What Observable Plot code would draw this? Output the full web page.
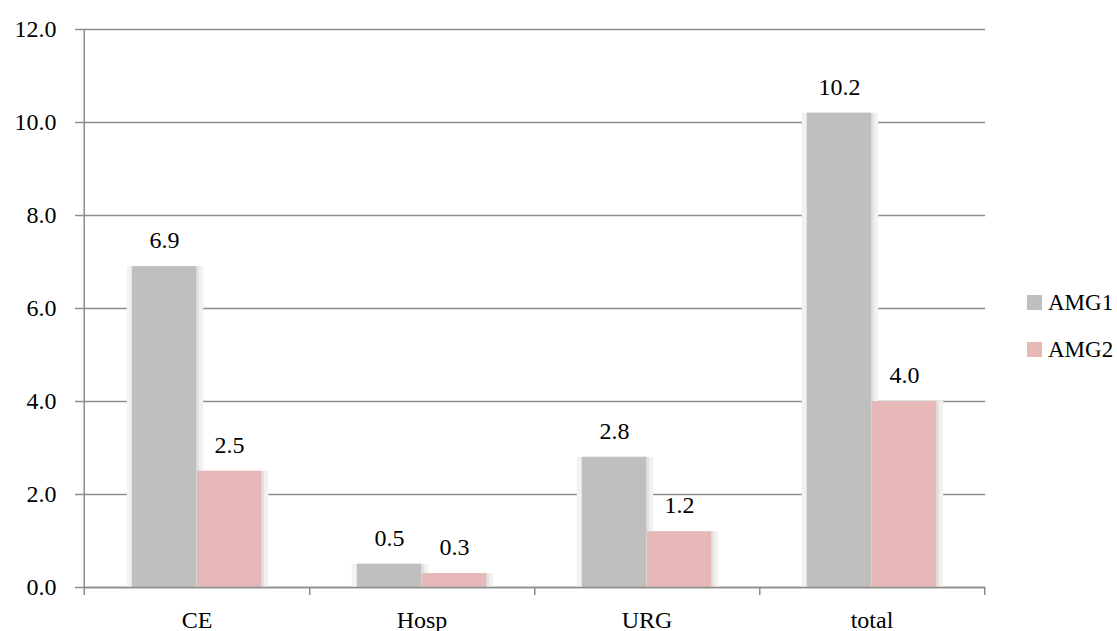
<!DOCTYPE html>
<html>
<head>
<meta charset="utf-8">
<script src="https://cdn.jsdelivr.net/npm/d3@7"></script>
<script src="https://cdn.jsdelivr.net/npm/@observablehq/plot@0.6"></script>
<style>
  html, body { margin: 0; padding: 0; background: #fff; }
  #wrap { position: relative; width: 1117px; height: 631px; font-family: "Liberation Serif", serif; }
  #legend { position: absolute; left: 1027px; top: 279px; font-size: 23px; color: #000; }
  .item { display: flex; align-items: center; height: 47px; }
  .sw { width: 15px; height: 15px; margin-right: 6px; }
</style>
</head>
<body>
<div id="wrap"><div id="chart"></div><div id="legend"></div></div>
<script>
const categories = ["CE", "Hosp", "URG", "total"];
const series = ["AMG1", "AMG2"];
const amg1 = [6.9, 0.5, 2.8, 10.2];
const amg2 = [2.5, 0.3, 1.2, 4.0];
const colors = ["#bfbfbf", "#e6b9b8"];
const yTicks = [0, 2, 4, 6, 8, 10, 12];

const W = 1117, H = 631, mL = 83, mR = 132, mT = 29, mB = 44;
const bw = (W - mL - mR) / categories.length;
const barW = 65;
const edge = bw / 2 - barW;
const FS = 24;

const rows = [];
categories.forEach((c, i) => {
  rows.push({cat: c, series: "AMG1", value: amg1[i]});
  rows.push({cat: c, series: "AMG2", value: amg2[i]});
});
const r1 = rows.filter(d => d.series === "AMG1");
const r2 = rows.filter(d => d.series === "AMG2");
const grid = "#8c8c8c";
const fmt = d3.format(".1f");

const chart = Plot.plot({
  width: W, height: H,
  marginLeft: mL, marginRight: mR, marginTop: mT, marginBottom: mB,
  style: {fontFamily: "'Liberation Serif', serif", fontSize: FS + "px", color: "#000", background: "#fff"},
  x: {domain: categories, padding: 0, axis: null},
  y: {domain: [0, 12], axis: null},
  marks: [
    Plot.ruleY(yTicks, {y: d => d, stroke: grid, strokeWidth: 1.5, insetLeft: -8}),
    Plot.axisY(yTicks, {tickSize: 0, tickPadding: 27, tickFormat: fmt, fontSize: FS, label: null}),
    // soft shadows
    Plot.barY(r1, {x: "cat", y: "value", fill: "#f2f2f2", insetLeft: edge - 5, insetRight: bw - edge - barW - 7}),
    Plot.barY(r2, {x: "cat", y: "value", fill: "#f2f2f2", insetLeft: edge + barW - 1, insetRight: edge - 7}),
    Plot.barY(r1, {x: "cat", y: "value", fill: "#e2e2e2", insetLeft: edge + 2, insetRight: bw - edge - barW - 3}),
    Plot.barY(r2, {x: "cat", y: "value", fill: "#e2e2e2", insetLeft: edge + barW + 2, insetRight: edge - 3}),
    // bars
    Plot.barY(r1, {x: "cat", y: "value", fill: colors[0], insetLeft: edge, insetRight: bw - edge - barW}),
    Plot.barY(r2, {x: "cat", y: "value", fill: colors[1], insetLeft: edge + barW, insetRight: edge}),
    // left axis line and category boundary ticks
    Plot.ruleX([categories[0]], {x: d => d, dx: -bw / 2, y1: 12, y2: 0, insetBottom: -8, stroke: grid, strokeWidth: 1.5}),
    Plot.ruleX(categories, {x: d => d, dx: bw / 2, y1: 0, y2: 0, insetBottom: -8, stroke: grid, strokeWidth: 1.5}),
    Plot.ruleY([0], {y: d => d, stroke: grid, strokeWidth: 1.5}),
    // category labels
    Plot.text(categories, {x: d => d, y: 0, text: d => d, dy: 33, fill: "#000", fontSize: FS}),
    // value labels
    Plot.text(r1, {x: "cat", y: "value", text: d => fmt(d.value), dx: -barW / 2, dy: -26, fill: "#000", fontSize: FS}),
    Plot.text(r2, {x: "cat", y: "value", text: d => fmt(d.value), dx: barW / 2, dy: -26, fill: "#000", fontSize: FS})
  ]
});
document.getElementById("chart").appendChild(chart);

const legend = document.getElementById("legend");
series.forEach((s, i) => {
  const it = document.createElement("div");
  it.className = "item";
  const sw = document.createElement("span");
  sw.className = "sw";
  sw.style.background = colors[i];
  const t = document.createElement("span");
  t.textContent = s;
  it.appendChild(sw); it.appendChild(t);
  legend.appendChild(it);
});
</script>
</body>
</html>
